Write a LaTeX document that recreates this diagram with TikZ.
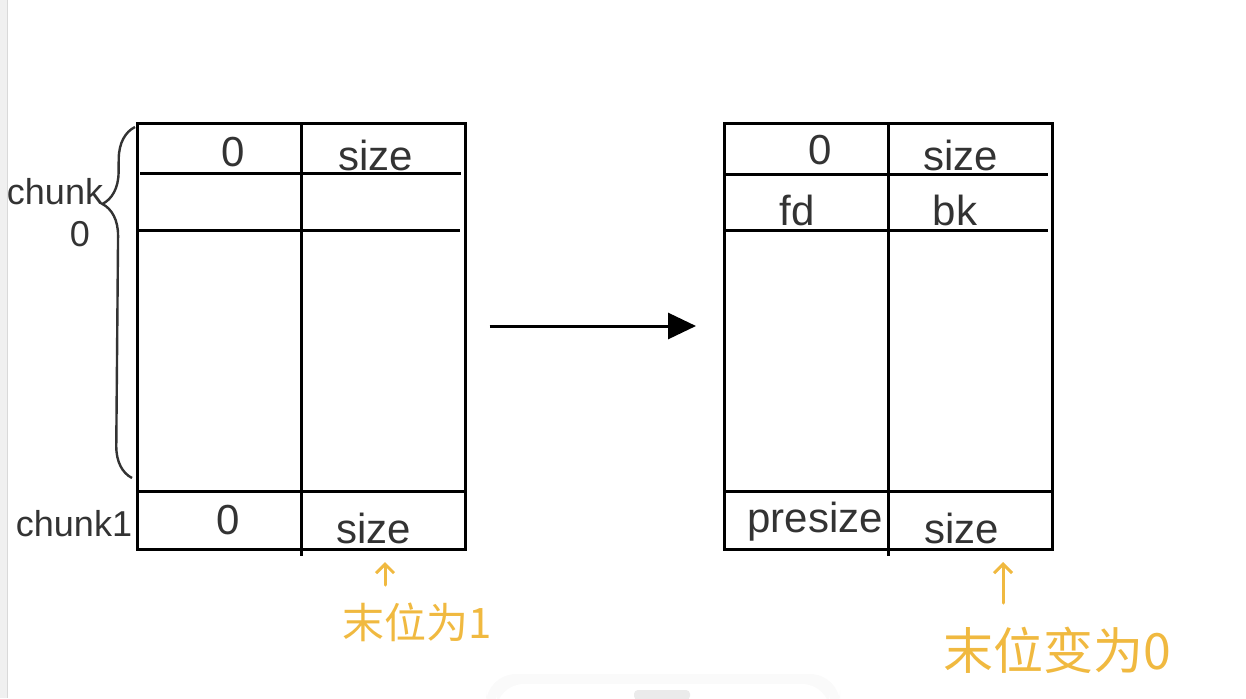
\documentclass[tikz,border=0pt]{standalone}
\usepackage{fontspec}
\setmainfont{Liberation Sans}
\newfontfamily\cjk{Noto Sans CJK SC}
\usetikzlibrary{arrows.meta,decorations.pathreplacing,calc}
\definecolor{ink}{HTML}{333333}
\definecolor{hl}{HTML}{F0B940}
\tikzset{
  tbl/.style={draw=black,line width=3pt,minimum width=328pt,minimum height=426pt,inner sep=0pt},
  rule/.style={draw=black,line width=3pt},
  hand/.style={text=ink,font=\fontsize{42}{42}\selectfont,inner sep=0pt},
  lab/.style={text=ink,font=\fontsize{36}{36}\selectfont,inner sep=0pt},
  note/.style={text=hl,font=\cjk\fontsize{42}{42}\selectfont,inner sep=0pt},
  uparrow/.style={draw=hl,line width=3pt,line cap=round,-{Straight Barb[length=9pt,width=18pt,line width=3pt]}},
}
\begin{document}
\begin{tikzpicture}[x=1pt,y=-1pt]
\useasboundingbox (0,0) rectangle (1246,698);
% UI artefacts
\fill[gray!12] (0,0) rectangle (7,698);
\draw[gray!30,line width=1pt] (7.5,0) -- (7.5,698);
\fill[gray!4,rounded corners=30pt] (486,674) rectangle (840,720);
\fill[white,rounded corners=28pt] (496,684) rectangle (830,720);
\fill[gray!16,rounded corners=4pt] (634,690) rectangle (690,700);

% left table
\node[tbl] (L) at (301,336) {};
\draw[rule] (301,123) -- (301,556);
\draw[rule] (140,173) -- (461,173);
\draw[rule] (137,230) -- (460,230);
\draw[rule] (137,491) -- (465,491);
% right table
\node[tbl] (R) at (888.5,336) {};
\draw[rule] (888,123) -- (888,556);
\draw[rule] (726,174) -- (1048,174);
\draw[rule] (726,230) -- (1048,230);
\draw[rule] (725,491) -- (1052,491);

% left texts
\node[hand] (l0) at (233,152) {0};
\node[hand] (ls) at (376,155) {size};
\node[hand] (lb0) at (228,520) {0};
\node[hand] (lbs) at (374,528) {size};
% right texts
\node[hand] (r0) at (820,150) {0};
\node[hand] (rs) at (961,155) {size};
\node[hand] (rfd) at (797,210) {fd};
\node[hand] (rbk) at (955,210) {bk};
\node[hand] (rps) at (815,522) {presize};
\node[hand] (rbs) at (962,528) {size};

% chunk labels and brace
\node[lab] (c0) at (55,192) {chunk};
\node[lab] (c0n) at (80,234) {0};
\node[lab] (c1) at (74,524) {chunk1};
\coordinate (bb) at (132,478);
\coordinate (bt) at (135,127);
\draw[ink,line width=2.4pt,decorate,decoration={brace,amplitude=32pt,aspect=0.78}] (bb) -- (bt);

% main arrow
\coordinate (as) at ($(L.east)+(23,-10)$);
\coordinate (ae) at ($(R.west)+(-27,-10)$);
\draw[line width=3pt,-{Triangle[length=28pt,width=26pt]}] (as) -- (ae);

% orange notes
\coordinate (la0) at (385,585);
\coordinate (la1) at (385,562);
\draw[uparrow] (la0) -- (la1);
\node[note] (ln) at (417,622) {末位为1};
\coordinate (ra0) at (1003,603);
\coordinate (ra1) at (1003,562);
\draw[uparrow] (ra0) -- (ra1);
\node[note,font=\cjk\fontsize{50}{50}\selectfont] (rn) at (1057,650) {末位变为0};
\end{tikzpicture}
\end{document}
